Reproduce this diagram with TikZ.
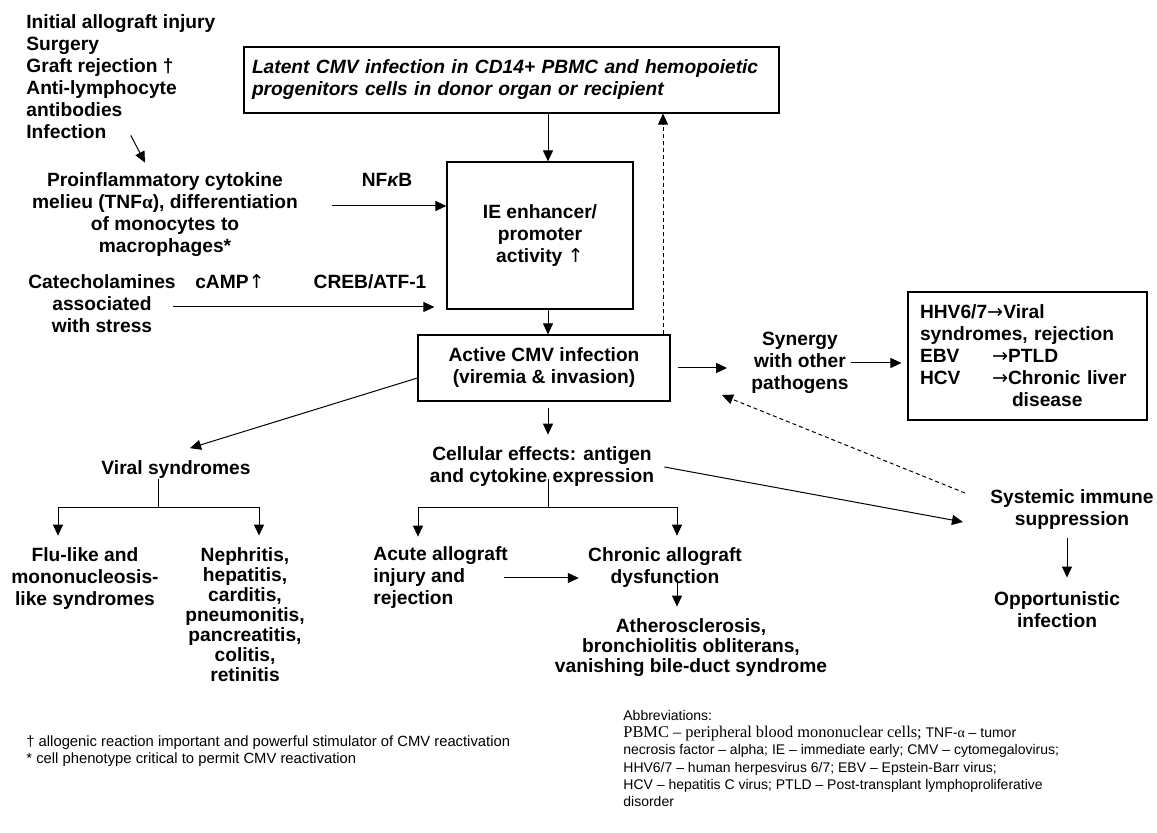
\documentclass[tikz,border=0pt]{standalone}
\usepackage{fontspec}
\setmainfont{Liberation Sans}
\newfontfamily\timesfont{Liberation Serif}
\newfontfamily\arrowfont{DejaVu Sans}
\usetikzlibrary{arrows.meta}

\newcommand{\upar}{{\arrowfont\mdseries ↑}}
\newcommand{\rar}{{\arrowfont\mdseries →}}
\newcommand{\galpha}{{\timesfont α}}

\tikzset{
  txt/.style={font=\fontsize{9.6}{11}\selectfont\bfseries, align=center, inner sep=0pt},
  box/.style={draw, line width=0.6pt},
  arr/.style={line width=0.5pt, -{Triangle[length=5.5pt,width=5pt]}},
  darr/.style={arr, dash pattern=on 2pt off 1.5pt},
  note/.style={font=\fontsize{7.4}{8.5}\selectfont, align=left, inner sep=0pt}
}

\begin{document}
\begin{tikzpicture}[x=0.5pt,y=-0.5pt]
\useasboundingbox (0,0) rectangle (1157,833);

\node[txt, align=left, anchor=west] (init) at (26,77) {Initial allograft injury\\Surgery\\Graft rejection †\\Anti-lymphocyte\\antibodies\\Infection};
\node[box, txt, font=\fontsize{9.6}{11}\selectfont\bfseries\itshape, align=left, text width=259.5pt, inner xsep=4pt, minimum height=33pt] (latent) at (511.5,80) {Latent CMV infection in CD14+ PBMC and hemopoietic\\progenitors cells in donor organ or recipient};
\node[txt] (proinf) at (165,215) {Proinflammatory cytokine\\melieu (TNF\galpha), differentiation\\of monocytes to\\macrophages*};
\node[txt] (nfkb) at (387,180) {NF{\itshape κ}B};
\node[box, txt, minimum width=93pt, minimum height=73.5pt] (ie) at (540,235.5) {IE enhancer/\\promoter\\activity \upar};
\node[txt] (catech) at (102,304) {Catecholamines\\associated\\with stress};
\node[txt] (camp) at (230,282) {cAMP\upar};
\node[txt] (creb) at (370,282) {CREB/ATF-1};
\node[box, txt, minimum width=126pt, minimum height=33pt] (active) at (544,368) {Active CMV infection\\(viremia \& invasion)};
\node[txt] (synergy) at (800,363) {Synergy\\with other\\pathogens};
\node[box, txt, align=left, text width=107.5pt, inner xsep=6pt, minimum height=64pt] (hhv) at (1027.5,356) {HHV6/7\rar Viral\\syndromes, rejection\\\makebox[36pt][l]{EBV}\rar PTLD\\\makebox[36pt][l]{HCV}\rar Chronic liver\\\hspace*{46pt}disease};
\node[txt] (viral) at (176,469.5) {Viral syndromes};
\node[txt] (flu) at (85,579) {Flu-like and\\mononucleosis-\\like syndromes};
\node[txt, font=\fontsize{9.6}{10}\selectfont\bfseries] (nephr) at (245,615) {Nephritis,\\hepatitis,\\carditis,\\pneumonitis,\\pancreatitis,\\colitis,\\retinitis};
\node[txt] (cellular) at (542,467) {Cellular effects: antigen\\and cytokine expression};
\node[txt, align=left, anchor=west] (acute) at (373,578) {Acute allograft\\injury and\\rejection};
\node[txt] (chronic) at (665,568) {Chronic allograft\\dysfunction};
\node[txt, font=\fontsize{9.6}{10}\selectfont\bfseries] (athero) at (691,648) {Atherosclerosis,\\bronchiolitis obliterans,\\vanishing bile-duct syndrome};
\node[txt] (systemic) at (1072,510) {Systemic immune\\suppression};
\node[txt] (opport) at (1057,610) {Opportunistic\\infection};
\node[note, anchor=west] (fnote) at (26,751) {† allogenic reaction important and powerful stimulator of CMV reactivation\\* cell phenotype critical to permit CMV reactivation};
\node[note, font=\fontsize{7}{8.6}\selectfont, anchor=north west] (abbrev) at (623,710) {Abbreviations:\\{\timesfont\fontsize{8.2}{8.6}\selectfont PBMC – peripheral blood mononuclear cells;} TNF-\galpha{} – tumor\\necrosis factor – alpha; IE – immediate early; CMV – cytomegalovirus;\\HHV6/7 – human herpesvirus 6/7; EBV – Epstein-Barr virus;\\HCV – hepatitis C virus; PTLD – Post-transplant lymphoproliferative\\disorder};

\coordinate (spine) at (548,0);
\coordinate (dashx) at (663,0);
\coordinate (nfa) at (332,206);
\coordinate (cra) at (173,307);
\coordinate (vjoin) at (158,508);
\coordinate (cjoin) at (548,508);

\draw[arr] ([xshift=5pt,yshift=2pt]init.south) -- ([xshift=-10pt,yshift=5pt]proinf.north);
\draw[arr] (latent.south -| spine) -- (ie.north -| spine);
\draw[arr] (nfa) -- (nfa -| ie.west);
\draw[arr] (cra) -- ([xshift=-6pt]cra -| ie.west);
\draw[arr] (ie.south -| spine) -- (active.north -| spine);
\draw[darr] (active.north -| dashx) -- (latent.south -| dashx);
\draw[arr] ([xshift=3.5pt]active.east) -- ([xshift=-12pt]synergy.west |- active.east);
\draw[arr] ([xshift=1pt]synergy.east) -- ([xshift=-3pt]hhv.west |- synergy.east);
\draw[arr] ([yshift=-5pt]active.west) -- ([xshift=7pt,yshift=6pt]viral.north);
\draw (viral.south -| vjoin) -- (vjoin);
\foreach \n/\dx in {flu/-13.5pt, nephr/7pt}
  \draw[arr] (vjoin) -| ([xshift=\dx,yshift=6pt]\n.north);
\draw[arr] ([yshift=-3pt]active.south -| spine) -- ([yshift=6pt]cellular.north -| spine);
\draw ([yshift=4pt]cellular.south -| spine) -- (cjoin);
\draw[arr] (cjoin) -| ([xshift=22.5pt,yshift=5pt]acute.north west);
\draw[arr] (cjoin) -| ([xshift=6pt,yshift=6pt]chronic.north);
\draw[arr] ([xshift=-2pt]acute.east) -- ([xshift=-4.5pt]chronic.west |- acute.east);
\draw[arr] ([xshift=6pt,yshift=-6pt]chronic.center) -- ([xshift=6pt,yshift=6pt]chronic.center |- athero.north);
\draw[arr] ([xshift=5pt]cellular.east) -- ([xshift=-13.5pt,yshift=-6pt]systemic.west);
\draw[darr] ([xshift=-12.5pt,yshift=8.5pt]systemic.west) -- ([xshift=-14.5pt,yshift=-0.5pt]synergy.south west);
\draw[arr] ([xshift=-2.5pt,yshift=-4pt]systemic.south) -- ([xshift=5pt,yshift=7pt]opport.north);

\end{tikzpicture}
\end{document}
